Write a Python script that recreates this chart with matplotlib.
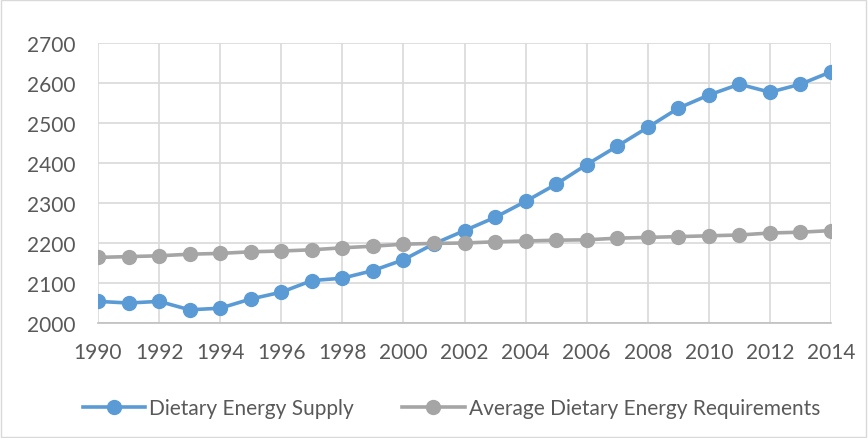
import matplotlib.pyplot as plt
from matplotlib.patches import Rectangle

years = list(range(1990, 2015))
supply = [2054, 2050, 2054, 2033, 2037, 2060, 2077, 2106, 2112, 2131, 2158, 2198,
          2231, 2264, 2304, 2347, 2396, 2442, 2489, 2537, 2570, 2597, 2577, 2597, 2628]
requirements = [2164, 2166, 2168, 2172, 2174, 2178, 2180, 2183, 2188, 2192, 2197, 2199,
                2200, 2203, 2205, 2207, 2208, 2212, 2214, 2216, 2218, 2220, 2225, 2227, 2231]

plt.rcParams['font.family'] = ['Lato', 'DejaVu Sans']

fig = plt.figure(figsize=(8.68, 4.39), dpi=100)
ax = fig.add_axes([98 / 868, 1 - 324 / 439, (831 - 98) / 868, (324 - 44) / 439])

ax.plot(years, supply, color='#5B9BD5', marker='o', markersize=10, linewidth=2.6,
        label='Dietary Energy Supply', zorder=3)
ax.plot(years, requirements, color='#A5A5A5', marker='o', markersize=10, linewidth=2.6,
        label='Average Dietary Energy Requirements', zorder=3)

ax.set_xlim(1990, 2014)
ax.set_ylim(2000, 2700)
ax.set_xticks(range(1990, 2015, 2))
ax.set_yticks(range(2000, 2701, 100))
ax.grid(True, color='#d9d9d9', linewidth=1.2)
ax.set_axisbelow(True)
for s in ['top', 'right', 'left']:
    ax.spines[s].set_visible(False)
ax.spines['bottom'].set_color('#bfbfbf')
ax.spines['bottom'].set_linewidth(1.2)
ax.tick_params(length=0, labelsize=15, colors='#595959')
ax.tick_params(axis='x', pad=14)
ax.tick_params(axis='y', pad=16)

fig.legend(loc='center', bbox_to_anchor=(0.52, 1 - 409 / 439), ncol=2, frameon=False,
           fontsize=15, labelcolor='#595959', handlelength=3.0, columnspacing=2.3,
           handletextpad=0.2)

fig.patches.append(Rectangle((0.001, 0.002), 0.997, 0.995, transform=fig.transFigure,
                             fill=False, edgecolor='#d9d9d9', linewidth=1))

fig.savefig('out.png', dpi=100)
